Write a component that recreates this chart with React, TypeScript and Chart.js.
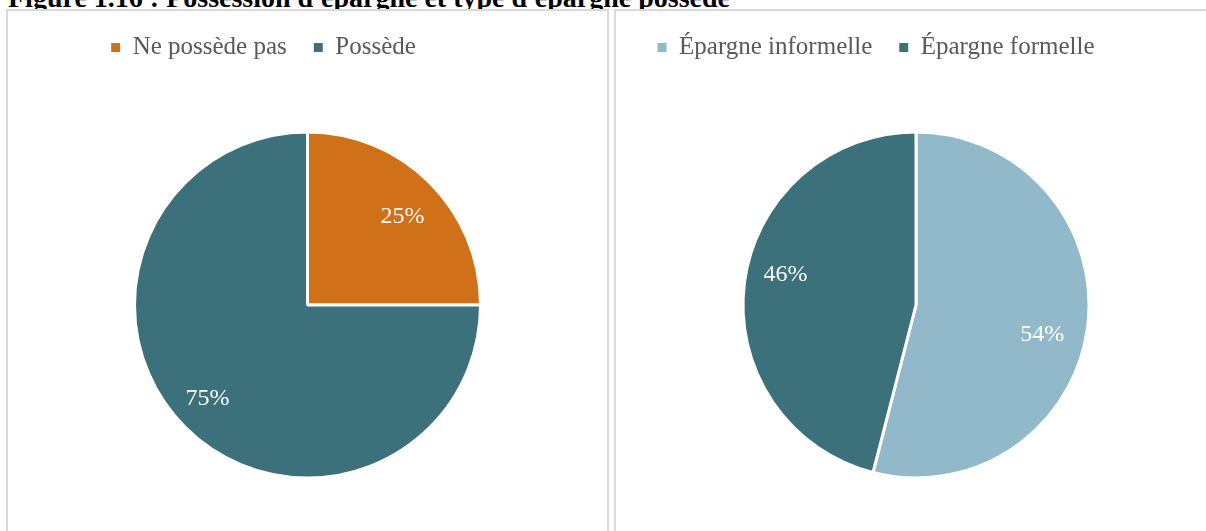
import React, { useEffect, useRef } from "react";
import { Chart, registerables } from "chart.js";

Chart.register(...registerables);

const TITLE = "Figure 1.16 : Possession d'épargne et type d'épargne possédé";

const leftLabels = ["Ne possède pas", "Possède"];
const leftValues = [25, 75];
const leftColors = ["#D0711A", "#3C717C"];

const rightLabels = ["Épargne informelle", "Épargne formelle"];
const rightValues = [54, 46];
const rightColors = ["#92B9CA", "#3C717C"];

const FONT = "'Liberation Serif', 'Times New Roman', serif";

const pctLabelPlugin = {
  id: "pctLabels",
  afterDatasetsDraw(chart: any, _args: any, opts: any) {
    const ctx = chart.ctx;
    const meta = chart.getDatasetMeta(0);
    const values = chart.data.datasets[0].data as number[];
    const factors: number[] = (opts && opts.factors) || [];
    const shift = ((opts && opts.angleShift) || 0) * Math.PI / 180;
    ctx.save();
    ctx.fillStyle = "#FFFFFF";
    ctx.font = `24px ${FONT}`;
    ctx.textAlign = "center";
    ctx.textBaseline = "middle";
    meta.data.forEach((arc: any, i: number) => {
      const p = arc.getProps(["x", "y", "startAngle", "endAngle", "outerRadius"], true);
      const mid = (p.startAngle + p.endAngle) / 2 + shift;
      const r = p.outerRadius * (factors[i] ?? 0.77);
      ctx.fillText(`${values[i]}%`, p.x + Math.cos(mid) * r, p.y + Math.sin(mid) * r);
    });
    ctx.restore();
  },
};

const legendShiftPlugin = {
  id: "legendShift",
  afterLayout(chart: any, _args: any, opts: any) {
    const lg = chart.legend;
    if (lg && opts && typeof opts.dx === "number") {
      lg.left += opts.dx;
      lg.right += opts.dx;
    }
  },
};

function PieChart({ labels, values, colors, dx, width, height, factors, angleShift }: any) {
  const ref = useRef<HTMLCanvasElement>(null);
  useEffect(() => {
    if (!ref.current) return;
    const chart = new Chart(ref.current, {
      type: "pie",
      data: {
        labels,
        datasets: [
          {
            data: values,
            backgroundColor: colors,
            borderColor: "#FFFFFF",
            borderWidth: 3,
          },
        ],
      },
      options: {
        responsive: false,
        animation: false,
        devicePixelRatio: 1,
        radius: 173,
        layout: { padding: { top: 0, bottom: 8, left: 0, right: 0 } },
        plugins: {
          legend: {
            position: "top",
            labels: {
              boxWidth: 9,
              boxHeight: 9,
              padding: 27,
              color: "#595959",
              font: { family: FONT, size: 25 },
              generateLabels: (c: any) =>
                Chart.overrides.pie.plugins.legend.labels
                  .generateLabels(c)
                  .map((it: any) => ({ ...it, lineWidth: 0, strokeStyle: it.fillStyle })),
            },
          },
          tooltip: { enabled: false },
          legendShift: { dx },
          pctLabels: { factors, angleShift },
        } as any,
      } as any,
      plugins: [pctLabelPlugin, legendShiftPlugin],
    });
    return () => chart.destroy();
  }, []);
  return <canvas ref={ref} width={width} height={height} style={{ display: "block", width, height }} />;
}

export default function App() {
  return (
    <div
      style={{
        position: "absolute",
        left: 0,
        top: 0,
        width: 1206,
        height: 531,
        overflow: "hidden",
        background: "#FFFFFF",
      }}
    >
      <div
        style={{
          position: "absolute",
          left: 8,
          top: -16.5,
          fontFamily: FONT,
          fontWeight: "bold",
          fontSize: 28,
          lineHeight: "28px",
          whiteSpace: "nowrap",
          color: "#000000",
        }}
      >
        {TITLE}
      </div>
      <div
        style={{
          position: "absolute",
          left: 6,
          top: 9,
          width: 603,
          height: 560,
          boxSizing: "border-box",
          border: "2px solid #D9D9D9",
          background: "#FFFFFF",
        }}
      />
      <div
        style={{
          position: "absolute",
          left: 614,
          top: 9,
          width: 700,
          height: 560,
          boxSizing: "border-box",
          border: "2px solid #D9D9D9",
          background: "#FFFFFF",
        }}
      />
      <div style={{ position: "absolute", left: 8, top: 8 }}>
        <PieChart
          labels={leftLabels}
          values={leftValues}
          colors={leftColors}
          dx={-44}
          width={599}
          height={540}
          factors={[0.75, 0.79]}
          angleShift={2}
        />
      </div>
      <div style={{ position: "absolute", left: 616, top: 8 }}>
        <PieChart
          labels={rightLabels}
          values={rightValues}
          colors={rightColors}
          dx={-40}
          width={600}
          height={540}
          factors={[0.75, 0.775]}
          angleShift={6}
        />
      </div>
    </div>
  );
}
